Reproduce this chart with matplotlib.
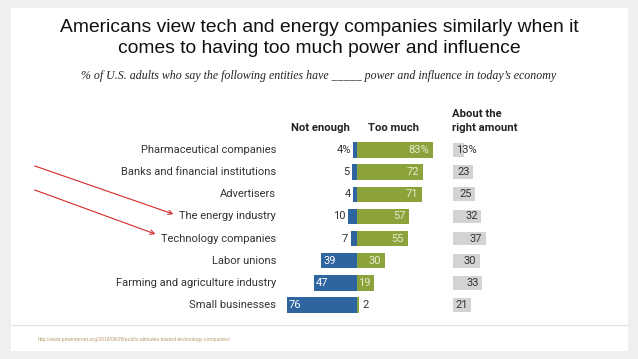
import matplotlib
matplotlib.use("Agg")
import matplotlib.pyplot as plt
from matplotlib.patches import Rectangle, FancyArrowPatch
from matplotlib.lines import Line2D
import matplotlib.transforms as mtransforms

categories = ["Pharmaceutical companies", "Banks and financial institutions", "Advertisers",
              "The energy industry", "Technology companies", "Labor unions",
              "Farming and agriculture industry", "Small businesses"]
not_enough = [4, 5, 4, 10, 7, 39, 47, 76]
too_much = [83, 72, 71, 57, 55, 30, 19, 2]
right_amount = [13, 23, 25, 32, 37, 30, 33, 21]

title = "Americans view tech and energy companies similarly when it\ncomes to having too much power and influence"
subtitle = "% of U.S. adults who say the following entities have _____ power and influence in today\u2019s economy"
url = "http://www.pewinternet.org/2018/06/28/public-attitudes-toward-technology-companies/"

BLUE = "#2e64a0"
GREEN = "#8ca23a"
GRAY = "#d3d3d3"
TXT = "#333333"

W, H = 638, 359
fig = plt.figure(figsize=(W / 100, H / 100), dpi=100, facecolor="#efefef")

def fx(px):
    return px / W

def fy(py):
    return 1 - py / H

# white panel
fig.patches.append(Rectangle((fx(11), fy(351)), fx(628) - fx(11), fy(8) - fy(351),
                             transform=fig.transFigure, facecolor="white", edgecolor="none", zorder=-5))
fig.lines.append(Line2D([fx(11), fx(628)], [fy(325), fy(325)], transform=fig.transFigure,
                        color="#e2e2e2", lw=0.8, zorder=-4))

fig.text(0.5, fy(38), title, ha="center", va="center", fontsize=13.9, family="Liberation Sans",
         color="#111111", linespacing=1.38)
fig.text(0.5, fy(76), subtitle, ha="center", va="center", fontsize=8.6, family="Liberation Serif",
         style="italic", color="#222222")
fig.text(fx(38), fy(339), url, ha="left", va="center", fontsize=3.6, family="Liberation Sans",
         color="#b89a68")

# geometry
scale = 0.92  # px per percent
zero_px = 357
xmin, xmax = -80, 100
row0, row_step = 150, 22.14
n = len(categories)
top = row0 - 0.5 * row_step
bottom = row0 + (n - 0.5) * row_step
left_px = zero_px + xmin * scale
ax = fig.add_axes([fx(left_px), fy(bottom), (xmax - xmin) * scale / W, (bottom - top) / H])
ax.set_xlim(xmin, xmax)
ax.set_ylim(n - 0.5, -0.5)
ax.axis("off")

gscale = 0.9
gray_left = 452.5
ax2 = fig.add_axes([fx(gray_left), fy(bottom), 50 * gscale / W, (bottom - top) / H])
ax2.set_xlim(0, 50)
ax2.set_ylim(n - 0.5, -0.5)
ax2.axis("off")

ys = list(range(n))
ax.barh(ys, [-v for v in not_enough], height=0.7, color=BLUE)
ax.barh(ys, too_much, height=0.7, color=GREEN)
ax2.barh(ys, right_amount, height=0.62, color=GRAY)

fs = 8.0
fam = "Roboto"
lab_tr = mtransforms.blended_transform_factory(fig.transFigure, ax.transData)
for i, c in enumerate(categories):
    fig.text(fx(276), i, c, transform=lab_tr, ha="right", va="center", fontsize=fs,
             family=fam, color=TXT)

px = 1 / scale  # one pixel in data units
gpx = 1 / gscale
for i, (ne, tm, ra) in enumerate(zip(not_enough, too_much, right_amount)):
    suf = "%" if i == 0 else ""
    if ne >= 20:
        ax.text(-ne + 2 * px, i, f"{ne}{suf}", ha="left", va="center", fontsize=fs, family=fam, color="white")
    else:
        ax.text(-ne - 2.5 * px, i, f"{ne}{suf}", ha="right", va="center", fontsize=fs, family=fam, color=TXT)
    if tm >= 10:
        ax.text(tm - 4 * px, i, f"{tm}{suf}", ha="right", va="center", fontsize=fs, family=fam, color="#e8eccf")
    else:
        ax.text(tm + 4 * px, i, f"{tm}{suf}", ha="left", va="center", fontsize=fs, family=fam, color=TXT)
    if i == 0:
        ax2.text(4 * gpx, i, f"{ra}%", ha="left", va="center", fontsize=fs, family=fam, color=TXT)
    else:
        ax2.text(ra - 3.5 * gpx, i, f"{ra}", ha="right", va="center", fontsize=fs, family=fam, color=TXT)

# headers
hdr = dict(fontsize=8.1, family="Roboto", weight="bold", color="#222222", va="center")
fig.text(fx(320), fy(128), "Not enough", ha="center", **hdr)
fig.text(fx(393), fy(128), "Too much", ha="center", **hdr)
fig.text(fx(452), fy(121), "About the\nright amount", ha="left", linespacing=1.45, **hdr)

# red arrows
for (x0, y0, x1, y1) in [(32, 165, 176, 215), (32, 189, 158, 235)]:
    fig.add_artist(FancyArrowPatch(
        (fx(x0), fy(y0)), (fx(x1), fy(y1)), transform=fig.transFigure,
        arrowstyle="->,head_length=3,head_width=1.6", color="#d42a2a", lw=0.8))

fig.savefig("out.png", dpi=100, facecolor=fig.get_facecolor())
